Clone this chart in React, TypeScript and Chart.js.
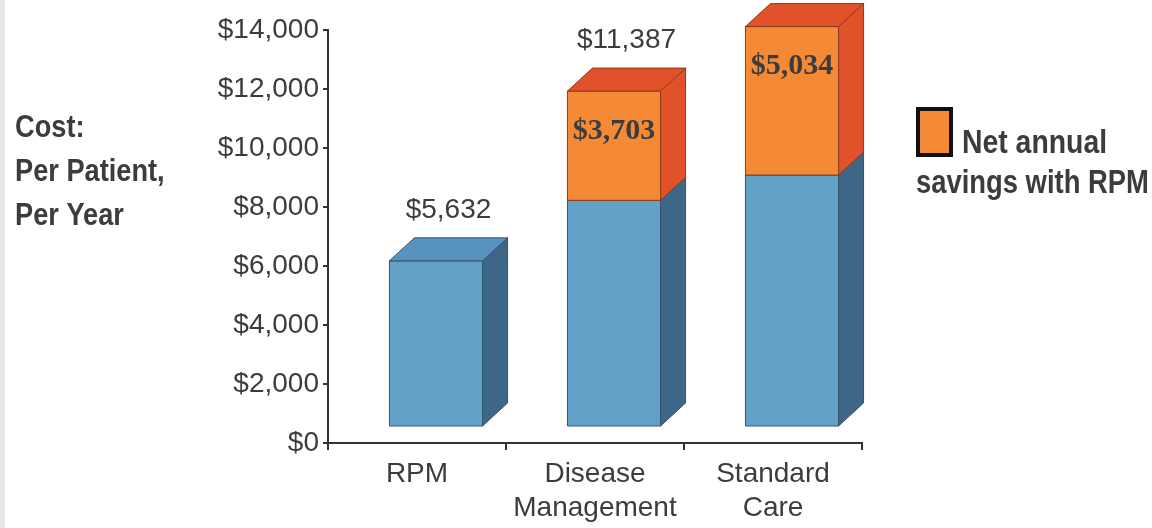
import { useEffect, useRef } from 'react';
import { Chart, registerables } from 'chart.js';

Chart.register(...registerables);

// Cost per patient per year, split into the base cost and the extra cost saved by RPM
const categories: (string | string[])[] = ['RPM', ['Disease', 'Management'], ['Standard', 'Care']];
const baseCost: number[] = [5632, 7684, 8540];
const netSavings: (number | null)[] = [null, 3703, 5034];
const showTotal: boolean[] = [true, true, false];
const yTicks: number[] = [0, 2000, 4000, 6000, 8000, 10000, 12000, 14000];
const axisTitleLines: string[] = ['Cost:', 'Per Patient,', 'Per Year'];
const legendLines: string[] = ['Net annual', 'savings with RPM'];

// 3D box geometry (pixels)
const DEPTH_X = 25;
const DEPTH_Y = 23;
const SHIFT_X = 19;
const LIFT = 16;

const faceStyles = [
  { front: '#64a1c9', side: '#3e6787', top: '#5892be', edge: '#34546c' },
  { front: '#f48a36', side: '#e1522a', top: '#e1522a', edge: '#8f3a1c' },
];

const TEXT = '#3c3c3c';
const SANS = '"Liberation Sans", Arial, sans-serif';
const SERIF = '"Liberation Serif", "Times New Roman", serif';

const money = (v: number) => '$' + v.toLocaleString('en-US');

function poly(ctx: CanvasRenderingContext2D, pts: number[][], fill: string, edge: string) {
  ctx.beginPath();
  ctx.moveTo(pts[0][0], pts[0][1]);
  for (let i = 1; i < pts.length; i++) ctx.lineTo(pts[i][0], pts[i][1]);
  ctx.closePath();
  ctx.fillStyle = fill;
  ctx.fill();
  ctx.strokeStyle = edge;
  ctx.lineWidth = 1;
  ctx.stroke();
}

// Bold condensed text: squeeze a bold face horizontally
function condensedText(ctx: CanvasRenderingContext2D, text: string, x: number, y: number, squeeze: number) {
  ctx.save();
  ctx.translate(x, y);
  ctx.scale(squeeze, 1);
  ctx.fillText(text, 0, 0);
  ctx.restore();
}

const boxPlugin = {
  id: 'box3d',
  beforeDraw(chart: any) {
    const ctx = chart.ctx as CanvasRenderingContext2D;
    ctx.save();
    ctx.fillStyle = '#ffffff';
    ctx.fillRect(0, 0, chart.width, chart.height);
    ctx.fillStyle = '#e7e7e7';
    ctx.fillRect(0, 0, 5, chart.height);
    ctx.restore();
  },
  afterDatasetsDraw(chart: any) {
    const ctx = chart.ctx as CanvasRenderingContext2D;
    ctx.save();
    const n = chart.data.labels.length;
    for (let i = 0; i < n; i++) {
      const segs: any[] = [];
      chart.data.datasets.forEach((ds: any, di: number) => {
        const v = ds.data[i];
        if (v == null || v === 0) return;
        const el = chart.getDatasetMeta(di).data[i];
        segs.push({ el, style: faceStyles[di], v, di });
      });
      let total = 0;
      let topFront = 0;
      let centerX = 0;
      segs.forEach((s, k) => {
        const { x, y, base, width } = s.el.getProps(['x', 'y', 'base', 'width'], true);
        const l = x - width / 2 + SHIFT_X;
        const r = l + width;
        const t = y - LIFT;
        const b = base - LIFT;
        const st = s.style;
        // front face
        poly(ctx, [[l, t], [r, t], [r, b], [l, b]], st.front, st.edge);
        // side face
        poly(ctx, [[r, b], [r + DEPTH_X, b - DEPTH_Y], [r + DEPTH_X, t - DEPTH_Y], [r, t]], st.side, st.edge);
        // top face only on the uppermost segment
        if (k === segs.length - 1) {
          poly(ctx, [[l, t], [l + DEPTH_X, t - DEPTH_Y], [r + DEPTH_X, t - DEPTH_Y], [r, t]], st.top, st.edge);
        }
        total += s.v;
        topFront = t;
        centerX = (l + r) / 2;
        if (s.di === 1) {
          ctx.fillStyle = TEXT;
          ctx.font = `bold 30px ${SERIF}`;
          ctx.textAlign = 'center';
          ctx.textBaseline = 'middle';
          ctx.fillText(money(s.v), centerX, t + 40);
        }
      });
      if (showTotal[i] && segs.length) {
        ctx.fillStyle = TEXT;
        ctx.font = `28px ${SANS}`;
        ctx.textAlign = 'center';
        ctx.textBaseline = 'middle';
        ctx.fillText(money(total), centerX + DEPTH_X / 2, topFront - DEPTH_Y - 28);
      }
    }
    ctx.restore();
  },
  afterDraw(chart: any) {
    const ctx = chart.ctx as CanvasRenderingContext2D;
    ctx.save();
    ctx.fillStyle = TEXT;
    ctx.textAlign = 'left';
    ctx.textBaseline = 'alphabetic';
    ctx.font = `bold 32px ${SANS}`;
    const titleBase = [137, 181, 225];
    axisTitleLines.forEach((line, i) => condensedText(ctx, line, 15, titleBase[i], 0.85));

    // legend swatch
    ctx.fillStyle = faceStyles[1].front;
    ctx.fillRect(918, 109, 33, 46);
    ctx.strokeStyle = '#111111';
    ctx.lineWidth = 4;
    ctx.strokeRect(918, 109, 33, 46);

    ctx.fillStyle = TEXT;
    ctx.font = `bold 33px ${SANS}`;
    condensedText(ctx, legendLines[0], 962, 153, 0.86);
    condensedText(ctx, legendLines[1], 916, 193, 0.83);
    ctx.restore();
  },
};

export default function App() {
  const ref = useRef<HTMLCanvasElement | null>(null);

  useEffect(() => {
    document.body.style.margin = '0';
    const canvas = ref.current;
    if (!canvas) return;
    const chart = new Chart(canvas, {
      type: 'bar',
      data: {
        labels: categories as any,
        datasets: [
          {
            label: 'Base cost',
            data: baseCost,
            backgroundColor: 'rgba(0,0,0,0)',
            borderWidth: 0,
            categoryPercentage: 1,
            barPercentage: 0.523,
          },
          {
            label: 'Net annual savings with RPM',
            data: netSavings as any,
            backgroundColor: 'rgba(0,0,0,0)',
            borderWidth: 0,
            categoryPercentage: 1,
            barPercentage: 0.523,
          },
        ],
      },
      options: {
        responsive: false,
        animation: false,
        devicePixelRatio: 1,
        layout: { padding: { left: 0, top: 30, right: 290, bottom: 0 } },
        plugins: {
          legend: { display: false },
          tooltip: { enabled: false },
          title: { display: false },
        },
        scales: {
          x: {
            stacked: true,
            grid: {
              display: true,
              drawOnChartArea: false,
              drawTicks: true,
              tickLength: 7,
              color: '#333333',
              lineWidth: 2,
              offset: true,
            },
            border: { display: true, color: '#333333', width: 2 },
            ticks: {
              color: TEXT,
              font: { family: SANS, size: 28, lineHeight: 1.22 },
              padding: 7,
              maxRotation: 0,
              autoSkip: false,
            },
            afterFit: (scale: any) => {
              scale.height = 85;
            },
          },
          y: {
            stacked: true,
            min: 0,
            max: 14000,
            grid: {
              display: true,
              drawOnChartArea: false,
              drawTicks: true,
              tickLength: 5,
              color: '#333333',
              lineWidth: 2,
            },
            border: { display: true, color: '#333333', width: 2 },
            ticks: {
              color: TEXT,
              font: { family: SANS, size: 28 },
              padding: 4,
              callback: (v: any) => money(Number(v)),
            },
            afterBuildTicks: (scale: any) => {
              scale.ticks = yTicks.map((v) => ({ value: v }));
            },
            afterFit: (scale: any) => {
              scale.width = 328;
            },
          },
        },
      },
      plugins: [boxPlugin],
    });
    return () => chart.destroy();
  }, []);

  return (
    <canvas
      ref={ref}
      width={1152}
      height={528}
      style={{ display: 'block', width: 1152, height: 528 }}
    />
  );
}
